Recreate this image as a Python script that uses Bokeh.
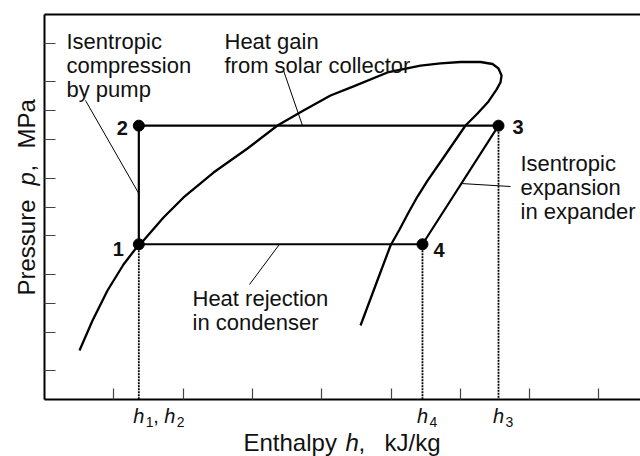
import math
from bokeh.plotting import figure
from bokeh.models import Range1d, FixedTicker, LinearAxis, Label
from bokeh.embed import file_html
from bokeh.resources import INLINE

# ---------------- data ----------------
# cycle states: enthalpy h [kJ/kg], pressure p [MPa]
state_names = ["1", "2", "3", "4"]
state_h = [136.1, 136.1, 655.1, 545.4]
state_p = [0.041, 0.70, 0.70, 0.041]

# saturation dome (liquid branch -> critical region -> vapour branch)
dome_h = [50.5, 69.3, 90.9, 114.0, 136.1, 142.9, 171.7, 200.6, 243.9, 292.9,
          336.2, 373.7, 412.7, 445.9, 494.9, 542.6, 571.4, 600.3, 629.2, 646.5,
          655.1, 659.5, 658.0, 652.2, 640.7, 624.8, 607.5, 575.8, 552.7, 538.2,
          525.3, 512.3, 499.3, 477.6, 456.0]
dome_p = [0.00323, 0.00662, 0.01357, 0.02527, 0.0408, 0.0449, 0.0778, 0.1256, 0.228, 0.405,
          0.703, 1.006, 1.44, 1.79, 2.50, 2.95, 3.10, 3.21, 3.21, 3.06,
          2.75, 2.32, 1.97, 1.66, 1.25, 0.936, 0.703, 0.327, 0.188, 0.1285,
          0.0877, 0.0584, 0.0398, 0.0153, 0.00587]

# leader lines of the annotations (start -> end)
leader_h0 = [59.2, 344.9, 601.0, 295.8]
leader_p0 = [1.278, 2.62, 0.1754, 0.01566]
leader_h1 = [136.1, 372.3, 672.4, 339.1]
leader_p1 = [0.138, 0.70, 0.1633, 0.041]

# axis extents and ticks (ticks carry no numbers)
h_min, h_max = 0, 860
p_min, p_max = 0.001, 10
x_ticks = [100, 200, 300, 400, 500, 600, 700, 800]
y_ticks = [0.002, 0.005, 0.01, 0.02, 0.05, 0.1, 0.2, 0.5, 1, 2, 5]

# the h tick labels
hlabel_pos = [136.1, 545.4, 655.1]
hlabel_subs = [["1", "2"], ["4"], ["3"]]

notes = ["Isentropic\ncompression\nby pump",
         "Heat gain\nfrom solar collector",
         "Heat rejection\nin condenser",
         "Isentropic\nexpansion\nin expander"]

FONT = "Liberation Sans"
W, H = 640, 456
# pixel box of the axes inside the canvas
FL, FR, FT, FB = 44.0, 640.0, 14.0, 399.0


def X(px):
    return h_min + (px - FL) / (FR - FL) * (h_max - h_min)


def Y(py):
    lo, hi = math.log10(p_min), math.log10(p_max)
    return 10 ** (lo + (FB - py) / (FB - FT) * (hi - lo))


def hpx(h):
    return FL + (h - h_min) / (h_max - h_min) * (FR - FL)


def ppx(pr):
    lo, hi = math.log10(p_min), math.log10(p_max)
    return FB - (math.log10(pr) - lo) / (hi - lo) * (FB - FT)


p = figure(width=W, height=H, output_backend="svg", toolbar_location=None,
           title=None,
           x_range=Range1d(X(0), X(W)), y_range=Range1d(Y(H), Y(0)),
           y_axis_type="log",
           min_border_left=0, min_border_right=0, min_border_top=0,
           min_border_bottom=0)
p.outline_line_color = None
p.xgrid.visible = False
p.ygrid.visible = False


def style_axis(ax, ticks):
    ax.ticker = FixedTicker(ticks=ticks)
    ax.major_tick_in = 11
    ax.major_tick_out = 0
    ax.major_tick_line_width = 1.2
    ax.major_tick_line_color = "#444444"
    ax.minor_tick_line_color = None
    ax.axis_line_width = 2
    ax.axis_line_color = "black"
    ax.major_label_text_color = None
    ax.axis_label = None


xa = p.xaxis[0]
style_axis(xa, x_ticks)
xa.fixed_location = p_min
xa.bounds = (h_min, h_max)

ya = p.yaxis[0]
style_axis(ya, y_ticks)
ya.fixed_location = h_min
ya.bounds = (p_min, p_max)

top = LinearAxis()
style_axis(top, [])
top.major_tick_line_color = None
top.fixed_location = p_max
top.bounds = (h_min, h_max)
p.add_layout(top, "above")

# saturation dome
p.line(dome_h, dome_p, line_color="black", line_width=2.3)

# dotted projection lines to the h axis
for i in (0, 3, 2):
    p.segment(x0=[state_h[i]], y0=[state_p[i]], x1=[state_h[i]], y1=[p_min],
              line_color="black", line_width=1.8, line_dash="2 1")

# cycle 1-2-3-4-1
p.line(state_h + [state_h[0]], state_p + [state_p[0]], line_color="black",
       line_width=2.2)

# leader lines
p.segment(x0=leader_h0, y0=leader_p0, x1=leader_h1, y1=leader_p1,
          line_color="black", line_width=1)

# state points
p.scatter(state_h, state_p, size=11, color="black")


def lab(text, px, py, size, style="normal", align="left", baseline="alphabetic",
        angle=0.0, lh=1.2):
    # empirical correction of where the renderer puts the text line
    shift = 0.3 * size if baseline == "alphabetic" else 0.1 * size
    px -= shift * math.sin(angle)
    py -= shift * math.cos(angle)
    p.add_layout(Label(x=X(px), y=Y(py), text=text, text_font=FONT,
                       text_font_size=f"{size}px", text_font_style=style,
                       text_color="#111111", text_align=align,
                       text_baseline=baseline, angle=angle,
                       text_line_height=lh))


# state labels
offs = [(-15, 11, "right"), (-11, 8.5, "right"), (14, 7, "left"), (11, 12, "left")]
for name, h, pr, (dx, dy, al) in zip(state_names, state_h, state_p, offs):
    lab(name, hpx(h) + dx, ppx(pr) + dy, 20, "bold", al)

# annotations
note_pos = [(66, 31), (224, 31), (192, 288), (520, 153)]
for t, (x, y) in zip(notes, note_pos):
    lab(t, x, y, 22, baseline="top", lh=0.95)

# h tick labels (italic h with subscripts)
for pos, subs in zip(hlabel_pos, hlabel_subs):
    cur = hpx(pos) - 5.5
    for k, s in enumerate(subs):
        lab("h", cur, 421, 20, "italic")
        cur += 12.5
        lab(s, cur, 426, 14)
        cur += 7.5
        if k < len(subs) - 1:
            lab(",", cur, 421, 20)
            cur += 11

# axis titles
lab("Enthalpy", 243, 449, 24)
lab("h", 345, 449, 24, "italic")
lab(",", 358, 449, 24)
lab("kJ/kg", 384, 449, 24)

lab("Pressure", 33, 295, 24, angle=math.pi / 2)
lab("p", 33, 185, 24, "italic", angle=math.pi / 2)
lab(",", 33, 171, 24, angle=math.pi / 2)
lab("MPa", 33, 148, 24, angle=math.pi / 2)

open("out.html", "w").write(file_html(p, INLINE))
